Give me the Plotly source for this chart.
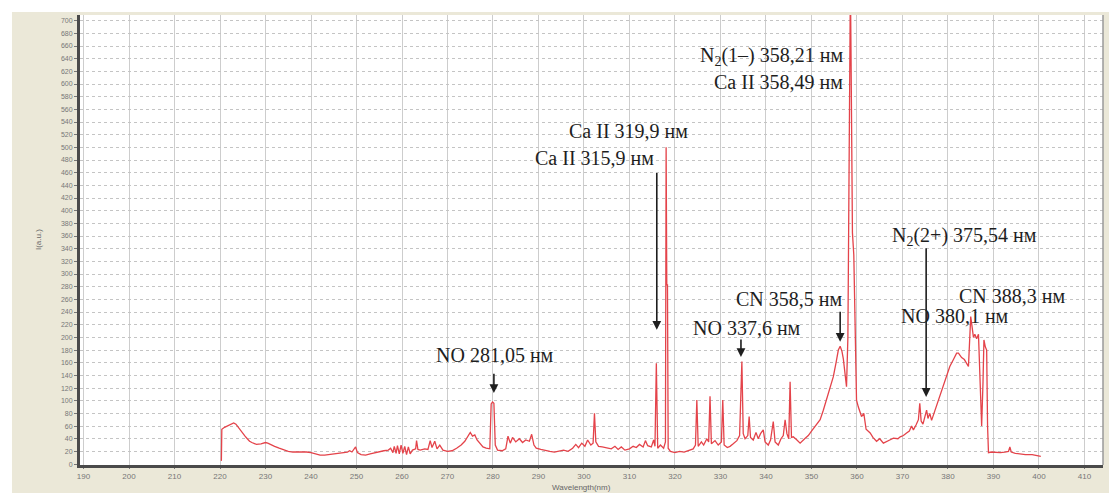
import plotly.graph_objects as go

# ---- spectrum data (wavelength nm, intensity) ----
wavelength = [
    220.3, 220.4, 221.0, 221.5, 222.0, 222.5, 223.0, 223.5, 224.0, 224.5, 225.0, 225.5,
    226.0, 226.5, 227.0, 227.5, 228.0, 229.0, 230.0, 230.5, 231.0, 232.0, 233.0, 234.0,
    235.0, 236.0, 237.0, 238.0, 239.0, 240.0, 241.0, 242.0, 243.0, 244.0, 245.0, 246.0,
    247.0, 248.0, 248.5, 249.0, 249.8, 250.2, 251.0, 252.0, 253.0, 254.0, 255.0, 256.0,
    257.0, 257.5, 258.0, 258.3, 258.7, 259.0, 259.4, 259.8, 260.2, 260.6, 261.0, 261.4,
    261.8, 262.3, 263.0, 263.2, 263.5, 264.0, 265.0, 265.7, 266.2, 266.6, 267.2, 267.7,
    268.3, 269.0, 270.0, 271.0, 272.0, 273.0, 273.8, 274.5, 275.0, 275.5, 276.0, 276.5,
    277.0, 277.8, 278.5, 279.3, 279.6, 279.9, 280.2, 280.5, 281.0, 282.0, 282.8, 283.3,
    283.8, 284.3, 285.0, 285.8, 286.5, 287.2, 288.0, 288.5, 289.0, 289.5, 290.5, 291.5,
    292.5, 293.5, 294.5, 295.5, 296.5, 297.5, 298.2, 298.8, 299.5, 300.2, 300.8, 301.5,
    302.0, 302.3, 302.6, 303.2, 304.0, 305.0, 306.0, 306.8, 307.5, 308.2, 309.0, 310.0,
    310.8, 311.5, 312.2, 313.0, 313.5, 314.0, 314.8, 315.3, 315.6, 315.9, 316.2, 316.8,
    317.5, 317.9, 318.05, 318.2, 318.35, 318.5, 319.0, 320.0, 321.0, 322.0, 323.0, 324.0,
    324.5, 324.8, 325.1, 325.8, 326.3, 327.0, 327.4, 327.7, 328.0, 328.8, 329.5, 330.2,
    330.5, 330.8, 331.5, 332.1, 332.8, 333.6, 334.2, 334.7, 335.0, 335.4, 336.0, 336.3,
    336.6, 337.2, 337.8, 338.3, 338.8, 339.4, 339.8, 340.5, 341.0, 341.6, 342.0, 342.7,
    343.3, 343.8, 344.2, 344.6, 345.0, 345.3, 345.6, 346.0, 346.8, 347.5, 348.5, 349.3,
    350.0, 351.0, 351.9, 352.6, 353.3, 354.0, 354.8, 355.4, 355.9, 356.3, 356.7, 357.0,
    357.4, 357.7, 358.0, 358.3, 358.55, 358.7, 358.9, 359.0, 359.3, 359.5, 359.7, 359.9,
    360.3, 361.0, 361.5, 362.0, 362.9, 363.5, 364.3, 365.0, 365.8, 366.5, 367.2, 368.0,
    369.0, 369.5, 370.2, 370.9, 371.5, 372.0, 372.4, 373.0, 373.5, 373.8, 374.1, 374.5,
    375.0, 375.3, 375.6, 376.0, 376.4, 377.0, 377.5, 378.2, 379.0, 379.7, 380.4, 381.2,
    381.9, 382.3, 383.0, 383.6, 384.5, 385.0, 385.3, 385.6, 385.9, 386.3, 386.7, 387.0,
    387.4, 387.7, 387.9, 388.2, 388.5, 388.7, 388.9, 389.5, 390.5, 391.5, 392.5, 393.3,
    393.6, 393.9, 394.8, 395.9, 397.0, 398.5, 399.5, 400.4,
]
intensity = [
    5, 55, 58, 60, 62, 63, 65, 63, 58, 52, 48, 44,
    40, 36, 34, 32, 31, 32, 34, 33, 31, 28, 25, 22,
    20, 19, 19, 20, 19, 18, 16, 14, 14, 15, 16, 17,
    18, 19, 21, 19, 27, 18, 15, 14, 16, 18, 19, 21,
    22, 25, 18, 28, 17, 29, 16, 30, 17, 28, 15, 27,
    16, 22, 24, 37, 23, 22, 24, 23, 37, 26, 36, 24,
    30, 22, 20, 21, 25, 30, 36, 44, 50, 44, 46, 38,
    34, 27, 25, 24, 95, 98, 96, 30, 22, 21, 24, 44,
    33, 42, 35, 40, 34, 38, 36, 47, 30, 25, 23, 21,
    20, 19, 20, 22, 20, 25, 31, 26, 33, 28, 38, 30,
    33, 80, 35, 28, 27, 25, 24, 28, 23, 27, 22, 24,
    28, 26, 31, 27, 37, 29, 27, 38, 28, 159, 25, 30,
    25, 35, 500, 283, 283, 25, 20, 18, 20, 19, 21, 24,
    30, 101, 28, 35, 30, 40, 35, 107, 32, 37, 30, 35,
    101, 30, 26, 28, 32, 37, 45, 162, 48, 40, 45, 75,
    42, 38, 50, 40, 48, 54, 35, 30, 38, 67, 35, 30,
    40, 45, 70, 48, 40, 130, 42, 43, 38, 33, 40, 45,
    52, 62, 70, 85, 101, 120, 138, 160, 180, 186, 178, 166,
    140, 122, 200, 500, 760, 640, 420, 365, 330, 270, 180, 101,
    90, 75, 80, 55, 49, 42, 36, 40, 33, 35, 38, 41,
    40, 43, 45, 49, 52, 60, 54, 62, 70, 96, 68, 63,
    75, 85, 72, 80, 69, 82, 90, 105, 122, 138, 154, 165,
    175, 175, 168, 165, 154, 233, 215, 200, 205, 198, 205, 150,
    60, 130, 196, 185, 180, 60, 18, 19, 18, 18, 19, 20,
    27, 19, 17, 16, 15, 15, 13, 12,
]

# ---- axis ticks ----
x_ticks = list(range(190, 411, 10))
y_ticks = list(range(0, 701, 20))

# ---- labels (text, x, y, anchor) ----
label_texts = [
    "N<sub>2</sub>(1–) 358,21 нм", "Ca II 358,49 нм", "Ca II 319,9 нм", "Ca II 315,9 нм",
    "NO 281,05 нм", "NO 337,6 нм", "CN 358,5 нм", "N<sub>2</sub>(2+) 375,54 нм",
    "CN 388,3 нм", "NO 380,1 нм",
]
label_x = [357.4, 357.4, 309.7, 315.9, 280.4, 335.8, 345.1, 383.7, 394.1, 381.5]
label_y = [643, 603, 526, 483, 172, 215, 261, 360, 265, 234]
label_anchor = ["right", "right", "center", "right", "center", "center", "center", "center", "center", "center"]

# arrows: head (x, y) and tail (x, y)
arrow_x = [316.0, 280.2, 334.5, 356.3, 375.2]
arrow_head_y = [212, 112, 169, 193, 106]
arrow_tail_y = [462, 145, 199, 243, 343]

fig = go.Figure()
fig.add_trace(go.Scatter(
    x=wavelength, y=intensity, mode="lines",
    line=dict(color="#e4434a", width=1.3),
    hoverinfo="skip", showlegend=False,
))

annotations = []
for t, x, y, a in zip(label_texts, label_x, label_y, label_anchor):
    annotations.append(dict(
        x=x, y=y, xref="x", yref="y", text=t, showarrow=False,
        xanchor=a, yanchor="middle",
        font=dict(family="Liberation Serif, Times New Roman, serif", size=20, color="#1e1e1e"),
    ))
for x, hy, ty in zip(arrow_x, arrow_head_y, arrow_tail_y):
    annotations.append(dict(
        x=x, y=hy, ax=x, ay=ty, xref="x", yref="y", axref="x", ayref="y",
        text="", showarrow=True, arrowhead=2, arrowsize=1.1, arrowwidth=1.6,
        arrowcolor="#1e1e1e",
    ))
# axis titles
annotations.append(dict(
    x=0.49, y=-0.049, xref="paper", yref="paper", text="Wavelength(nm)",
    showarrow=False, xanchor="center", yanchor="middle",
    font=dict(family="Liberation Sans, Arial, sans-serif", size=8, color="#666"),
))
annotations.append(dict(
    x=-0.041, y=0.5, xref="paper", yref="paper", text="I(a.u.)",
    showarrow=False, textangle=-90, xanchor="center", yanchor="middle",
    font=dict(family="Liberation Sans, Arial, sans-serif", size=8, color="#666"),
))

shapes = [
    # beige panel
    dict(type="rect", xref="paper", yref="paper", x0=-0.0665, x1=1.01, y0=-0.07, y1=1.0067,
         fillcolor="#ebe8d8", line=dict(width=0), layer="below"),
    # white plot area
    dict(type="rect", xref="paper", yref="paper", x0=0, x1=1, y0=0, y1=1,
         fillcolor="white", line=dict(width=0), layer="below"),
    # right frame line
    dict(type="line", xref="paper", yref="paper", x0=1, x1=1, y0=0, y1=1,
         line=dict(color="#9a9a9a", width=1.5)),
]

fig.update_layout(
    width=1109, height=493,
    margin=dict(l=80, r=6, t=15, b=28),
    paper_bgcolor="white", plot_bgcolor="white",
    annotations=annotations, shapes=shapes,
    xaxis=dict(
        range=[189.23, 414.07], tickmode="array", tickvals=x_ticks,
        ticktext=[str(v) for v in x_ticks],
        showgrid=True, gridcolor="#cdcdcd", gridwidth=1,
        showline=True, linecolor="#4a4a4a", linewidth=3,
        ticks="outside", ticklen=1, tickcolor="#777",
        tickfont=dict(family="Liberation Sans, Arial, sans-serif", size=8, color="#777"),
        zeroline=False,
    ),
    yaxis=dict(
        range=[-1.5, 709], tickmode="array", tickvals=y_ticks,
        ticktext=[str(v) for v in y_ticks],
        showgrid=True, gridcolor="#c4c4c4", gridwidth=1, griddash="dot",
        showline=True, linecolor="#4a4a4a", linewidth=3,
        ticks="outside", ticklen=3, tickcolor="#777",
        tickfont=dict(family="Liberation Sans, Arial, sans-serif", size=7, color="#777"),
        zeroline=False,
    ),
)

fig.write_html("out.html", config={"displayModeBar": False},
               post_script="document.body.style.margin='0';")
